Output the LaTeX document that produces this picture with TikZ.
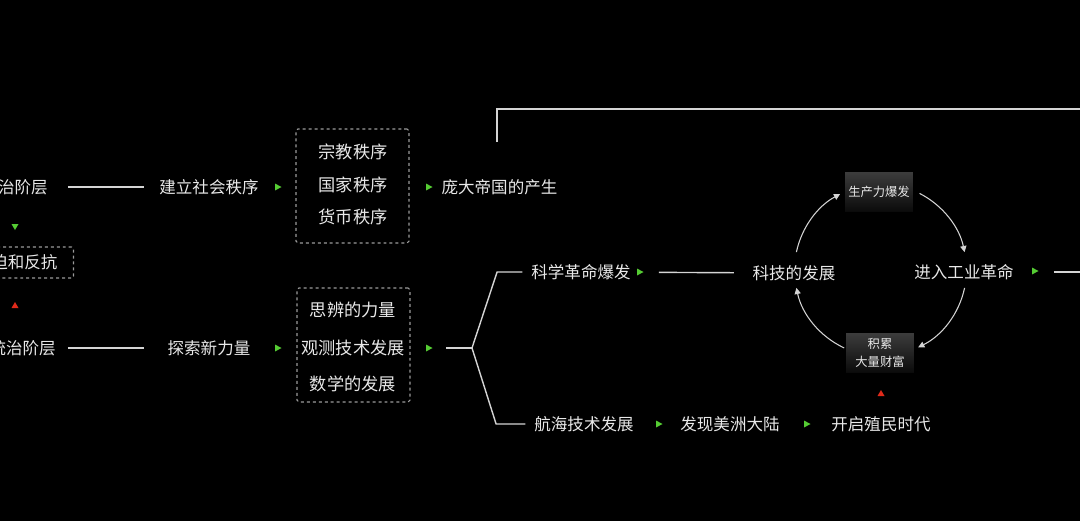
\documentclass[tikz,border=0pt]{standalone}
\usepackage{fontspec}
\newfontfamily\cjk{Noto Sans CJK SC}
\usetikzlibrary{arrows.meta,calc}
\definecolor{txt}{HTML}{E8E8E8}
\definecolor{ln}{HTML}{D4D4D4}
\definecolor{gr}{HTML}{55CC33}
\definecolor{rd}{HTML}{E02A1A}
\definecolor{dsh}{HTML}{9A9A9A}
\definecolor{sbtop}{HTML}{3C3C3C}
\definecolor{sbbot}{HTML}{0A0A0A}
\tikzset{
  gtri/.pic={\fill[gr] (-3,-3.5) -- (3.5,0) -- (-3,3.5) -- cycle;},
  gdown/.pic={\fill[gr] (-3.5,-3) -- (3.5,-3) -- (0,3) -- cycle;},
  rup/.pic={\fill[rd] (-3.5,3) -- (3.5,3) -- (0,-3) -- cycle;},
  lbl/.style={text=txt, font=\cjk\fontsize{9.4}{11}\selectfont, inner sep=0pt},
  blbl/.style={text=txt, font=\cjk\fontsize{9.8}{11}\selectfont, inner sep=0pt},
  conn/.style={draw=ln, line width=0.8pt},
  dbox/.style={draw=dsh, dash pattern=on 1.7pt off 1.7pt, line width=0.6pt, inner sep=0pt, rounded corners=1pt},
  sbox/.style={text=txt, font=\cjk\fontsize{7}{10}\selectfont, top color=sbtop, bottom color=sbbot, minimum width=1.36cm, minimum height=0.8cm, inner sep=0pt, align=center},
  cyc/.style={draw=ln, line width=0.6pt, -{Triangle[length=3.5pt,width=3.5pt]}}
}
\begin{document}
\begin{tikzpicture}[x=0.02cm,y=-0.02cm]
\useasboundingbox (0,0) rectangle (1080,521);
\fill[black] (0,0) rectangle (1080,521);
\clip (0,0) rectangle (1080,521);

% left column
\node[lbl, anchor=east] (ruler) at (48,187) {统治阶层};
\node[lbl, anchor=east] (ruled) at (56,348) {被统治阶层};
\node[lbl, dbox, anchor=east, minimum height=0.62cm, inner xsep=0.32cm] (oppr) at (74,262.5) {压迫和反抗};
\pic at (15,227) {gdown};
\pic at (15,305) {rup};

% row 1
\node[lbl] (order) at (209,187) {建立社会秩序};
\node[dbox, minimum width=2.26cm, minimum height=2.28cm] (box1) at (352.5,186) {};
\node[blbl] (o1) at (353,152) {宗教秩序};
\node[blbl] (o2) at (353,184.5) {国家秩序};
\node[blbl] (o3) at (353,217) {货币秩序};
\node[lbl] (empire) at (499.5,187) {庞大帝国的产生};
\draw[conn, shorten <=11.3pt, shorten >=8.5pt] (ruler) -- (order);
\pic at (278,187) {gtri};
\pic at (429,187) {gtri};

% top bracket
\coordinate (b0) at (497,142);
\coordinate (b1) at (1090,109);
\draw[conn] (b0) |- (b1);

% row 2
\node[lbl] (explore) at (209,348) {探索新力量};
\node[dbox, minimum width=2.26cm, minimum height=2.28cm] (box2) at (353.5,345) {};
\node[blbl] (p1) at (353,310) {思辨的力量};
\node[blbl] (p2) at (353,347.5) {观测技术发展};
\node[blbl] (p3) at (353,384) {数学的发展};
\draw[conn, shorten <=6.8pt, shorten >=13.3pt] (ruled) -- (explore);
\pic at (278,348) {gtri};
\pic at (429,348) {gtri};

% branch
\node[lbl] (sci) at (581,272) {科学革命爆发};
\node[lbl] (nav) at (584,424) {航海技术发展};
\coordinate (j) at (472,348);
\draw[conn, shorten <=20.4pt] (box2.east |- j) -- (j);
\draw[conn, shorten >=5pt] (j) -- ($(sci.west)+(-34,0)$) -- (sci.west);
\draw[conn, shorten >=5pt] (j) -- ($(nav.west)+(-38,0)$) -- (nav.west);
\pic at (640,272) {gtri};

% cycle
\node[lbl] (tech) at (794,273) {科技的发展};
\node[lbl] (ind) at (964,272) {进入工业革命};
\node[sbox] (prod) at (879,192) {生产力爆发};
\node[sbox] (wealth) at (880,353) {积累\\大量财富};
\draw[conn, shorten <=15.9pt, shorten >=10.5pt] (sci) -- (tech);
\coordinate (cc) at (880.5,270);
\draw[cyc] ($(cc)+(168:1.72cm)$) arc[start angle=168, end angle=118, radius=1.72cm];
\draw[cyc] ($(cc)+(63:1.72cm)$) arc[start angle=63, end angle=12, radius=1.72cm];
\draw[cyc] ($(cc)+(-12:1.72cm)$) arc[start angle=-12, end angle=-64, radius=1.72cm];
\draw[cyc] ($(cc)+(-115:1.72cm)$) arc[start angle=-115, end angle=-168, radius=1.72cm];
\pic at (1035,271) {gtri};
\coordinate (rend) at (1090,272);
\draw[conn, shorten <=22.7pt] (ind.east) -- (rend);
\pic at (881,393) {rup};

% row 3
\node[lbl] (amer) at (730,424) {发现美洲大陆};
\node[lbl] (colo) at (881,424) {开启殖民时代};
\pic at (659,424) {gtri};
\pic at (807,424) {gtri};
\end{tikzpicture}
\end{document}
